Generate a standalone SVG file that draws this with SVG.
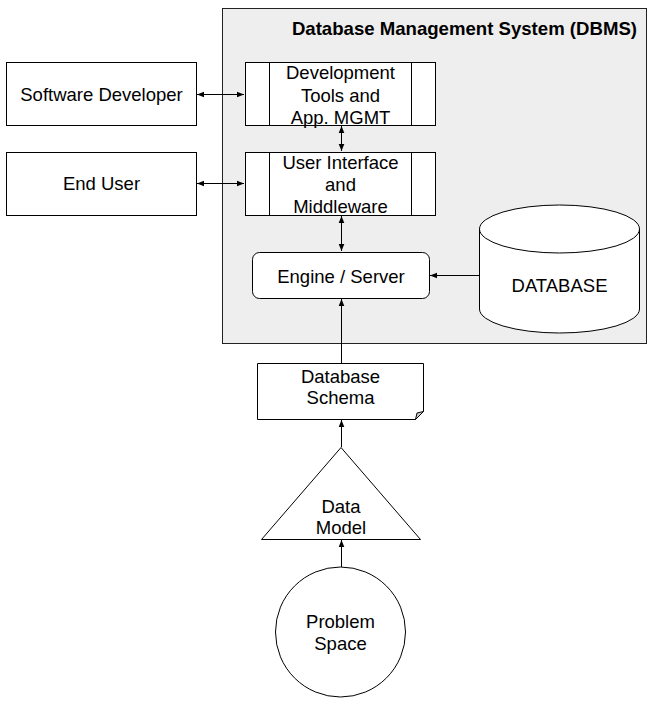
<svg xmlns="http://www.w3.org/2000/svg" width="653" height="703" viewBox="0 0 653 703">
<defs>
<marker id="ah" viewBox="0 0 8 8" refX="8" refY="4" markerWidth="7" markerHeight="7" markerUnits="userSpaceOnUse" orient="auto-start-reverse">
<path d="M0,0.8 L8,4 L0,7.2 Z" fill="#000"/>
</marker>
<style>
.box{fill:#fff;stroke:#000;stroke-width:1}
.t{font-family:"Liberation Sans",Arial,sans-serif;font-size:18.5px;fill:#000;text-anchor:middle}
.c{stroke:#000;stroke-width:1;fill:none}
</style>
</defs>
<rect width="653" height="703" fill="#fff"/>
<g id="dbms">
<rect x="222.5" y="8.5" width="424" height="335" fill="#eeeeee" stroke="#222" stroke-width="1"/>
<text x="637" y="35" style="font-family:'Liberation Sans',Arial,sans-serif;font-size:18.6px;font-weight:bold;text-anchor:end">Database Management System (DBMS)</text>
</g>
<g id="software-developer">
<rect class="box" x="6.5" y="62.5" width="190" height="63"/>
<text class="t" x="101.5" y="101">Software Developer</text>
</g>
<g id="end-user">
<rect class="box" x="6.5" y="152.5" width="190" height="63"/>
<text class="t" x="101.5" y="190">End User</text>
</g>
<g id="dev-tools">
<rect class="box" x="245.5" y="62.5" width="190" height="63"/>
<line class="c" x1="269.5" y1="62.5" x2="269.5" y2="125.5"/>
<line class="c" x1="411.5" y1="62.5" x2="411.5" y2="125.5"/>
<text class="t" x="340.5" y="79">Development</text>
<text class="t" x="340.5" y="101.5">Tools and</text>
<text class="t" x="340.5" y="124">App. MGMT</text>
</g>
<g id="user-interface">
<rect class="box" x="245.5" y="152.5" width="190" height="63"/>
<line class="c" x1="269.5" y1="152.5" x2="269.5" y2="215.5"/>
<line class="c" x1="411.5" y1="152.5" x2="411.5" y2="215.5"/>
<text class="t" x="340.5" y="168.5">User Interface</text>
<text class="t" x="340.5" y="190.5">and</text>
<text class="t" x="340.5" y="212.5">Middleware</text>
</g>
<g id="engine">
<rect class="box" x="252.5" y="252.5" width="177" height="46" rx="7"/>
<text class="t" x="341" y="283">Engine / Server</text>
</g>
<g id="database">
<path class="box" d="M479.5,229 L479.5,309 A80,24 0 0 0 639.5,309 L639.5,229 A80,24 0 0 0 479.5,229 A80,24 0 0 0 639.5,229"/>
<text class="t" x="559.5" y="292">DATABASE</text>
</g>
<g id="schema">
<path class="box" d="M257.5,363.5 L423.5,363.5 L423.5,411.5 L415.5,419.5 L257.5,419.5 Z"/>
<path d="M415.5,419.5 L417,413 L423.5,411.5 Z" fill="#ccc" stroke="#000" stroke-width="1"/>
<text class="t" x="340.5" y="383">Database</text>
<text class="t" x="340.5" y="404">Schema</text>
</g>
<g id="data-model">
<path class="box" d="M341,447.5 L420.5,539.5 L261.5,539.5 Z"/>
<text class="t" x="341" y="513">Data</text>
<text class="t" x="341" y="534">Model</text>
</g>
<g id="problem-space">
<circle class="box" cx="340.5" cy="632" r="65"/>
<text class="t" x="340.5" y="628">Problem</text>
<text class="t" x="340.5" y="650">Space</text>
</g>
<g id="connectors">
<line class="c" x1="197" y1="94.5" x2="244" y2="94.5" marker-start="url(#ah)" marker-end="url(#ah)"/>
<line class="c" x1="197" y1="183.5" x2="244" y2="183.5" marker-start="url(#ah)" marker-end="url(#ah)"/>
<line class="c" x1="341.5" y1="126" x2="341.5" y2="151" marker-start="url(#ah)" marker-end="url(#ah)"/>
<line class="c" x1="341.5" y1="216" x2="341.5" y2="251" marker-start="url(#ah)" marker-end="url(#ah)"/>
<line class="c" x1="479" y1="275.5" x2="430" y2="275.5" marker-end="url(#ah)"/>
<line class="c" x1="341.5" y1="363" x2="341.5" y2="299" marker-end="url(#ah)"/>
<line class="c" x1="341.5" y1="447" x2="341.5" y2="420" marker-end="url(#ah)"/>
<line class="c" x1="341.5" y1="567" x2="341.5" y2="540" marker-end="url(#ah)"/>
</g>
</svg>
